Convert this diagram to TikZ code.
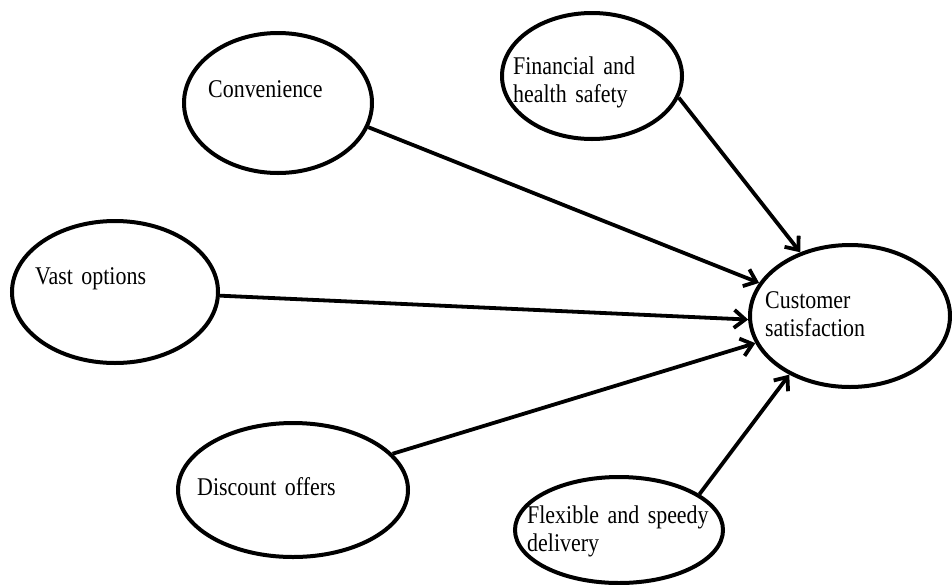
\documentclass[tikz,border=0pt]{standalone}
\usepackage{fontspec}
\setmainfont{Liberation Serif}[FakeStretch=0.86, WordSpace=0.8]
\usepackage{tikz}
\usetikzlibrary{shapes.geometric, arrows.meta}

\begin{document}
\begin{tikzpicture}[
    x=1pt, y=-1pt,
    % node styles
    factor/.style={ellipse, draw=black, line width=4pt, inner sep=0pt},
    caption/.style={anchor=base west, inner sep=0pt, text width=220pt, align=left, font=\fontsize{25.5pt}{28pt}\selectfont},
    arrow/.style={-{Straight Barb[length=11pt, width=18pt]}, line width=3.8pt, black}
]
\useasboundingbox (0,0) rectangle (952,584);

% Ellipses
\node[factor, minimum width=188pt, minimum height=140pt] (conv) at (278,103) {};
\node[factor, minimum width=180pt, minimum height=126pt] (fin) at (592,76) {};
\node[factor, minimum width=206pt, minimum height=142pt] (vast) at (115,292) {};
\node[factor, minimum width=200pt, minimum height=142pt] (cust) at (850,316) {};
\node[factor, minimum width=230pt, minimum height=134pt] (disc) at (293,490) {};
\node[factor, minimum width=208pt, minimum height=106pt] (flex) at (619,530) {};

% Texts
\node[caption] (convtxt) at (208,97) {Convenience};
\node[caption] (fintxt) at (513,74) {Financial and\\health safety};
\node[caption] (vasttxt) at (35,284) {Vast options};
\node[caption] (custtxt) at (765,308) {Customer\\satisfaction};
\node[caption] (disctxt) at (197,495) {Discount offers};
\node[caption] (flextxt) at (527,523) {Flexible and speedy\\delivery};

% Arrows
\draw[arrow] (conv.-15) -- (cust.160.8);
\draw[arrow] (fin.-14.5) -- (cust.128.2);
\draw[arrow] (vast.-2.7) -- (cust.182.2);
\draw[arrow] (disc.20.9) -- (cust.196.2);
\draw[arrow] (flex.24.3) -- (cust.224);

\end{tikzpicture}
\end{document}
